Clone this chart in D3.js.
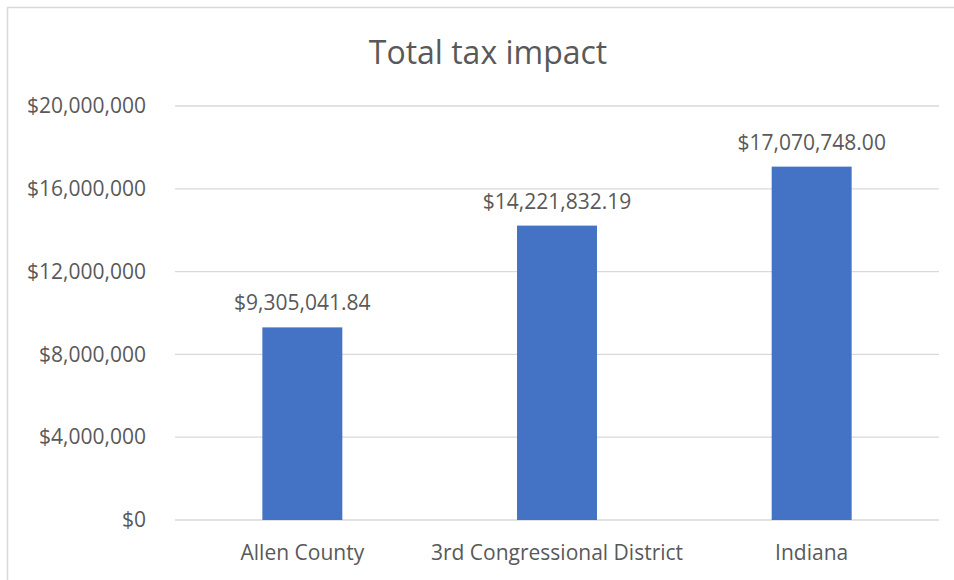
<!DOCTYPE html>
<html>
<head>
<meta charset="utf-8">
<script src="https://cdn.jsdelivr.net/npm/d3@7"></script>
<style>
  html, body { margin: 0; padding: 0; background: #fff; }
  svg { display: block; }
  text { font-family: "Open Sans", sans-serif; fill: #595959; }
</style>
</head>
<body>
<svg id="chart" width="954" height="580"></svg>
<script>
// Total tax impact by region
const categories = ["Allen County", "3rd Congressional District", "Indiana"];
const taxImpact = [9305041.84, 14221832.19, 17070748.00];
const valueLabels = ["$9,305,041.84", "$14,221,832.19", "$17,070,748.00"];
const yTicks = [0, 4000000, 8000000, 12000000, 16000000, 20000000];

const svg = d3.select("#chart");
const W = 954, H = 580;
const margin = { left: 175, right: 15, top: 106, bottom: 60 };
const fontSize = 21;

// chart area frame (left and top edges fall inside the view)
svg.append("rect")
  .attr("x", 7.5).attr("y", 7.5)
  .attr("width", W + 10).attr("height", H + 10)
  .attr("fill", "none").attr("stroke", "#d9d9d9").attr("stroke-width", 1.5);

const x = d3.scaleBand()
  .domain(categories)
  .range([margin.left, W - margin.right])
  .paddingInner(0.686).paddingOuter(0.343);

const y = d3.scaleLinear()
  .domain([0, 20000000])
  .range([H - margin.bottom, margin.top]);

const fmt = d => "$" + d3.format(",")(d);

// gridlines
svg.append("g")
  .selectAll("line")
  .data(yTicks)
  .join("line")
  .attr("x1", margin.left).attr("x2", W - margin.right)
  .attr("y1", d => y(d)).attr("y2", d => y(d))
  .attr("stroke", "#d9d9d9").attr("stroke-width", 1.3);

// y axis labels
const yAxis = d3.axisLeft(y).tickValues(yTicks).tickFormat(fmt).tickSize(0).tickPadding(29);
const yg = svg.append("g").attr("transform", `translate(${margin.left},0)`).call(yAxis);
yg.select(".domain").remove();
yg.selectAll("text").attr("font-size", fontSize).attr("fill", "#595959").style("font-family", "Open Sans, sans-serif");

// x axis labels
const xAxis = d3.axisBottom(x).tickSize(0).tickPadding(25);
const xg = svg.append("g").attr("transform", `translate(0,${y(0)})`).call(xAxis);
xg.select(".domain").remove();
xg.selectAll("text").attr("font-size", fontSize).attr("fill", "#595959").style("font-family", "Open Sans, sans-serif");

// bars
svg.append("g")
  .selectAll("rect")
  .data(taxImpact)
  .join("rect")
  .attr("x", (d, i) => x(categories[i]))
  .attr("width", x.bandwidth())
  .attr("y", d => y(d))
  .attr("height", d => y(0) - y(d))
  .attr("fill", "#4472c4");

// value labels
svg.append("g")
  .selectAll("text")
  .data(taxImpact)
  .join("text")
  .attr("x", (d, i) => x(categories[i]) + x.bandwidth() / 2)
  .attr("y", d => y(d) - 17)
  .attr("text-anchor", "middle")
  .attr("font-size", fontSize)
  .attr("fill", "#404040")
  .text((d, i) => valueLabels[i]);

// title
svg.append("text")
  .attr("x", 488).attr("y", 64)
  .attr("text-anchor", "middle")
  .attr("font-size", 32)
  .text("Total tax impact");
</script>
</body>
</html>
